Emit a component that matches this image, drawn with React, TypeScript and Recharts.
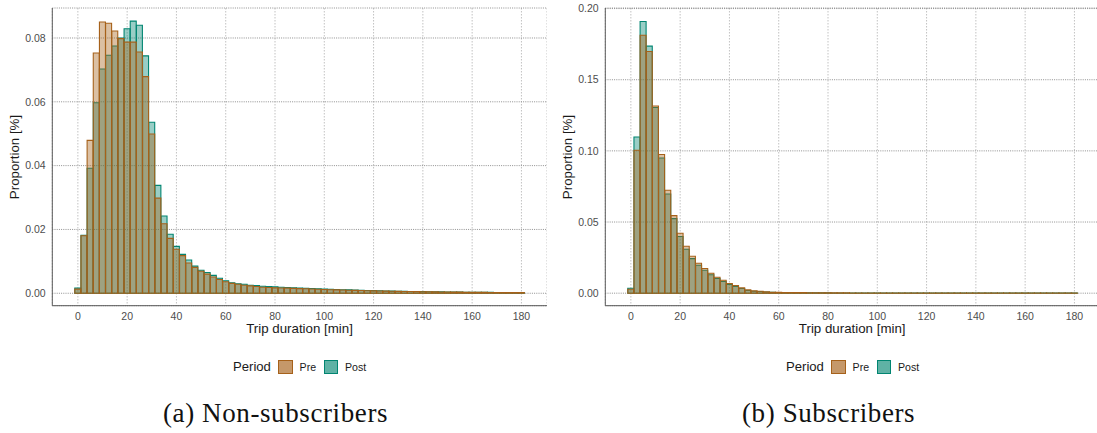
import { BarChart, Bar, XAxis, YAxis, CartesianGrid } from "recharts";

const PRE_COLOR = "#a6611a";
const POST_COLOR = "#018571";
const SANS = "'Liberation Sans', Arial, Helvetica, sans-serif";

// histogram bins are 2.5 min wide, centred on 0, 2.5, ... 180
const BIN_WIDTH = 2.5;
const X_DOMAIN = [-10.375, 190.375];
const xTicks = [0, 20, 40, 60, 80, 100, 120, 140, 160, 180];
const yTicksNon = [0, 0.02, 0.04, 0.06, 0.08];
const yTicksSub = [0, 0.05, 0.1, 0.15, 0.2];

// (a) Non-subscribers
const nonPre = [
  0.0013, 0.018, 0.0479, 0.0753, 0.085, 0.0846, 0.0822, 0.0798, 0.0787, 0.0787,
  0.0756, 0.0679, 0.0499, 0.0298, 0.0218, 0.0172, 0.0138, 0.0118, 0.0095, 0.0081,
  0.0069, 0.006, 0.0051, 0.0043, 0.0036, 0.0031, 0.0028, 0.0025, 0.0023, 0.0021,
  0.0019, 0.0018, 0.0017, 0.00165, 0.0016, 0.00152, 0.00145, 0.0014, 0.00132, 0.00125,
  0.0012, 0.00112, 0.00106, 0.001, 0.00095, 0.0009, 0.00085, 0.0008, 0.00076, 0.00072,
  0.00068, 0.00064, 0.0006, 0.00057, 0.00054, 0.0005, 0.00047, 0.00045, 0.00042, 0.0004,
  0.00038, 0.00036, 0.00034, 0.00032, 0.0003, 0.00029, 0.00027, 0.00026, 0.00025, 0.00024,
  0.00023, 0.00022, 0.00021,
];
const nonPost = [
  0.0016, 0.0182, 0.0392, 0.0597, 0.0703, 0.0746, 0.0775, 0.08, 0.0829, 0.0853,
  0.084, 0.0744, 0.0536, 0.0338, 0.0242, 0.0185, 0.0147, 0.0122, 0.0104, 0.0085,
  0.0072, 0.0065, 0.0056, 0.0047, 0.0039, 0.0033, 0.003, 0.0028, 0.0025, 0.0024,
  0.0022, 0.0021, 0.002, 0.0019, 0.0018, 0.0017, 0.0016, 0.00155, 0.00148, 0.0014,
  0.00133, 0.00125, 0.0012, 0.00112, 0.00106, 0.001, 0.00094, 0.00088, 0.00082, 0.00077,
  0.00072, 0.00068, 0.00064, 0.0006, 0.00056, 0.00053, 0.0005, 0.00047, 0.00044, 0.00042,
  0.0004, 0.00037, 0.00035, 0.00033, 0.00031, 0.0003, 0.00028, 0.00027, 0.00026, 0.00025,
  0.00024, 0.00023, 0.00022,
];

// (b) Subscribers
const subPre = [
  0.0028, 0.1004, 0.1813, 0.1698, 0.1315, 0.0975, 0.0723, 0.0545, 0.0421, 0.033,
  0.026, 0.021, 0.0173, 0.014, 0.0112, 0.0091, 0.0068, 0.0054, 0.0037, 0.0023,
  0.0016, 0.0014, 0.0009, 0.0007, 0.0006, 0.0005, 0.0005, 0.0004, 0.0004, 0.0003,
  0.0003, 0.0003, 0.00025, 0.00022, 0.0002, 0.00018, 0.00017, 0.00015, 0.00014, 0.00013,
  0.00012, 0.00011, 0.0001, 0.0001, 0.00009, 0.00009, 0.00008, 0.00008, 0.00007, 0.00007,
  0.00006, 0.00006, 0.00006, 0.00005, 0.00005, 0.00005, 0.00004, 0.00004, 0.00004, 0.00004,
  0.00003, 0.00003, 0.00003, 0.00003, 0.00003, 0.00002, 0.00002, 0.00002, 0.00002, 0.00002,
  0.00002, 0.00002, 0.00002,
];
const subPost = [
  0.0035, 0.1097, 0.1909, 0.1736, 0.1305, 0.095, 0.0697, 0.0524, 0.0398, 0.0309,
  0.0243, 0.0196, 0.0161, 0.0129, 0.0103, 0.0082, 0.0061, 0.0047, 0.0033, 0.0019,
  0.0014, 0.0012, 0.0008, 0.0006, 0.0005, 0.0004, 0.0004, 0.0003, 0.0003, 0.00025,
  0.00022, 0.0002, 0.00018, 0.00016, 0.00015, 0.00014, 0.00013, 0.00012, 0.00011, 0.0001,
  0.00009, 0.00009, 0.00008, 0.00008, 0.00007, 0.00007, 0.00006, 0.00006, 0.00005, 0.00005,
  0.00005, 0.00004, 0.00004, 0.00004, 0.00004, 0.00003, 0.00003, 0.00003, 0.00003, 0.00003,
  0.00002, 0.00002, 0.00002, 0.00002, 0.00002, 0.00002, 0.00002, 0.00001, 0.00001, 0.00001,
  0.00001, 0.00001, 0.00001,
];

const toRows = (pre: number[], post: number[]) =>
  pre.map((v, i) => ({ minutes: i * BIN_WIDTH, pre: v, post: post[i] }));

const tickStyle = { fill: "#4d4d4d", fontSize: 10.5, fontFamily: SANS };

function Panel({ left, pre, post, yTicks, yDomain }: any) {
  const data = toRows(pre, post);
  return (
    <div style={{ position: "absolute", left, top: 0 }}>
      <BarChart
        width={547}
        height={340}
        data={data}
        margin={{ top: 8, right: 0, bottom: 0.3, left: 0 }}
        barCategoryGap={0}
        barGap={0}
      >
        <CartesianGrid xAxisId="main" horizontal={false} stroke="#c2c2c2" strokeDasharray="1.5 1.5" />
        <CartesianGrid xAxisId="main" vertical={false} stroke="#8f8f8f" strokeDasharray="1 1.2" />
        <XAxis
          xAxisId="main"
          type="number"
          dataKey="minutes"
          domain={X_DOMAIN}
          ticks={xTicks}
          allowDataOverflow
          tickLine={false}
          tickSize={0}
          tickMargin={7}
          height={34}
          axisLine={{ stroke: "#5a5a5a" }}
          tick={tickStyle}
        />
        <XAxis xAxisId="over" type="number" dataKey="minutes" domain={X_DOMAIN} allowDataOverflow hide />
        <YAxis
          type="number"
          domain={yDomain}
          ticks={yTicks}
          allowDataOverflow
          width={52.3}
          tickLine={false}
          tickSize={0}
          tickMargin={6.6}
          axisLine={{ stroke: "#5a5a5a" }}
          tick={tickStyle}
          tickFormatter={(v: number) => v.toFixed(2)}
        />
        {/* Post first so Pre sits on top, as in the original */}
        <Bar
          xAxisId="over"
          dataKey="post"
          fill={POST_COLOR}
          fillOpacity={0.4}
          stroke={POST_COLOR}
          strokeWidth={1.1}
          isAnimationActive={false}
        />
        <Bar
          xAxisId="main"
          dataKey="pre"
          fill={PRE_COLOR}
          fillOpacity={0.4}
          stroke={PRE_COLOR}
          strokeWidth={1.1}
          isAnimationActive={false}
        />
      </BarChart>
      <div
        style={{
          position: "absolute",
          left: 14,
          top: 157,
          transform: "translate(-50%, -50%) rotate(-90deg)",
          whiteSpace: "nowrap",
          fontFamily: SANS,
          fontSize: 13.3,
          color: "#1a1a1a",
        }}
      >
        Proportion [%]
      </div>
      <div
        style={{
          position: "absolute",
          left: 299.5,
          top: 328,
          transform: "translate(-50%, -50%)",
          whiteSpace: "nowrap",
          fontFamily: SANS,
          fontSize: 13.3,
          color: "#1a1a1a",
        }}
      >
        Trip duration [min]
      </div>
    </div>
  );
}

function Legend({ left }: { left: number }) {
  const text = (x: number, size: number, s: string) => (
    <div
      style={{
        position: "absolute",
        left: x,
        top: 0,
        height: 14,
        lineHeight: "14px",
        fontFamily: SANS,
        fontSize: size,
        color: "#1a1a1a",
        whiteSpace: "nowrap",
      }}
    >
      {s}
    </div>
  );
  const key = (x: number, color: string, op: number) => (
    <div
      style={{
        position: "absolute",
        left: x,
        top: 0,
        width: 14.5,
        height: 14,
        boxSizing: "border-box",
        border: `1.3px solid ${color}`,
        background: color + Math.round(op * 255).toString(16),
      }}
    />
  );
  return (
    <div style={{ position: "absolute", left, top: 360 }}>
      {text(0, 13.1, "Period")}
      {key(45, PRE_COLOR, 0.65)}
      {text(66.6, 10.6, "Pre")}
      {key(90.5, POST_COLOR, 0.63)}
      {text(112, 10.6, "Post")}
    </div>
  );
}

const captionStyle = {
  position: "absolute" as const,
  top: 398,
  fontFamily: "'Liberation Serif', 'Times New Roman', serif",
  fontSize: 27,
  letterSpacing: 0.6,
  lineHeight: "30px",
  color: "#111",
  whiteSpace: "nowrap" as const,
};

export default function App() {
  return (
    <div
      style={{
        position: "fixed",
        left: 0,
        top: 0,
        width: 1097,
        height: 433,
        overflow: "hidden",
        background: "#fff",
      }}
    >
      <Panel left={0} pre={nonPre} post={nonPost} yTicks={yTicksNon} yDomain={[-0.0039, 0.0894]} />
      <Panel left={552.7} pre={subPre} post={subPost} yTicks={yTicksSub} yDomain={[-0.0088, 0.2004]} />
      <Legend left={233} />
      <Legend left={786} />
      <div style={{ ...captionStyle, left: 163 }}>(a) Non-subscribers</div>
      <div style={{ ...captionStyle, left: 742 }}>(b) Subscribers</div>
    </div>
  );
}
